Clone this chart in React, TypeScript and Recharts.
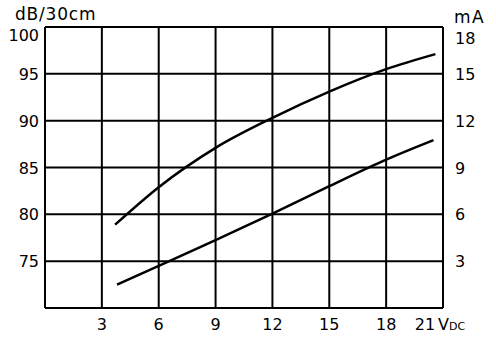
import React from 'react';
import { LineChart, Line, XAxis, YAxis, CartesianGrid } from 'recharts';

const voltageTicks = [3, 6, 9, 12, 15, 18, 21];
const dbTicks = [75, 80, 85, 90, 95, 100];
const maTicks = [3, 6, 9, 12, 15, 18];

const soundVolts = [3.7, 6, 9, 12, 15, 18, 20.6];
const soundDb = [78.9, 82.9, 87.1, 90.3, 93.1, 95.5, 97.1];
const currentVolts = [3.8, 6, 9, 12, 15, 18, 20.5];
const currentMa = [1.5, 2.7, 4.35, 6.05, 7.8, 9.5, 10.75];

const soundData = soundVolts.map((v, i) => ({ v, db: soundDb[i] }));
const currentData = currentVolts.map((v, i) => ({ v, ma: currentMa[i] }));

const FONT = '"DejaVu Sans", sans-serif';

const XTick = (props: any) => {
  const { x, payload } = props;
  if (payload.value === 21) {
    return (
      <g>
        <text x={x - 18} y={329.5} textAnchor="middle" fontFamily={FONT} fontSize={16} fill="#000">
          21
        </text>
        <text x={x - 5} y={329.5} textAnchor="start" fontFamily={FONT} fontSize={16} fill="#000">
          V<tspan fontSize={11}>DC</tspan>
        </text>
      </g>
    );
  }
  return (
    <text x={x} y={329.5} textAnchor="middle" fontFamily={FONT} fontSize={16} fill="#000">
      {payload.value}
    </text>
  );
};

const LeftTick = (props: any) => {
  const { y, payload } = props;
  const dy = payload.value === 100 ? 8 : 0;
  return (
    <text x={39} y={y + dy + 6} textAnchor="end" fontFamily={FONT} fontSize={16} fill="#000">
      {payload.value}
    </text>
  );
};

const RightTick = (props: any) => {
  const { y, payload } = props;
  const dy = payload.value === 18 ? 11 : 0;
  return (
    <text x={455} y={y + dy + 6} textAnchor="start" fontFamily={FONT} fontSize={16} fill="#000">
      {payload.value}
    </text>
  );
};

export default function App() {
  return (
    <div style={{ position: 'absolute', left: 0, top: 0, width: 496, height: 339, background: '#fff' }}>
      <LineChart width={496} height={339} margin={{ top: 27, right: 0, bottom: 0, left: 0 }}>
        <CartesianGrid yAxisId="left" stroke="#000" strokeWidth={2} />
        <XAxis
          type="number"
          dataKey="v"
          domain={[0, 21]}
          ticks={voltageTicks}
          height={31}
          tickLine={false}
          axisLine={{ stroke: '#000', strokeWidth: 2 }}
          tick={<XTick />}
          allowDataOverflow
        />
        <YAxis
          yAxisId="left"
          orientation="left"
          domain={[70, 100]}
          ticks={dbTicks}
          width={45}
          tickLine={false}
          axisLine={{ stroke: '#000', strokeWidth: 2 }}
          tick={<LeftTick />}
        />
        <YAxis
          yAxisId="right"
          orientation="right"
          domain={[0, 18]}
          ticks={maTicks}
          width={53}
          tickLine={false}
          axisLine={{ stroke: '#000', strokeWidth: 2 }}
          tick={<RightTick />}
        />
        <Line
          yAxisId="left"
          data={soundData}
          dataKey="db"
          type="monotone"
          stroke="#000"
          strokeWidth={2.5}
          dot={false}
          isAnimationActive={false}
        />
        <Line
          yAxisId="right"
          data={currentData}
          dataKey="ma"
          type="monotone"
          stroke="#000"
          strokeWidth={2.5}
          dot={false}
          isAnimationActive={false}
        />
      </LineChart>
      <span
        style={{
          position: 'absolute', left: 15, top: 6, fontFamily: FONT, fontSize: 17,
          lineHeight: '17px', letterSpacing: 0.8, color: '#000', whiteSpace: 'nowrap',
        }}
      >
        dB/30cm
      </span>
      <span
        style={{
          position: 'absolute', left: 454, top: 9, fontFamily: FONT, fontSize: 17,
          lineHeight: '17px', letterSpacing: 1.5, color: '#000', whiteSpace: 'nowrap',
        }}
      >
        mA
      </span>
    </div>
  );
}
